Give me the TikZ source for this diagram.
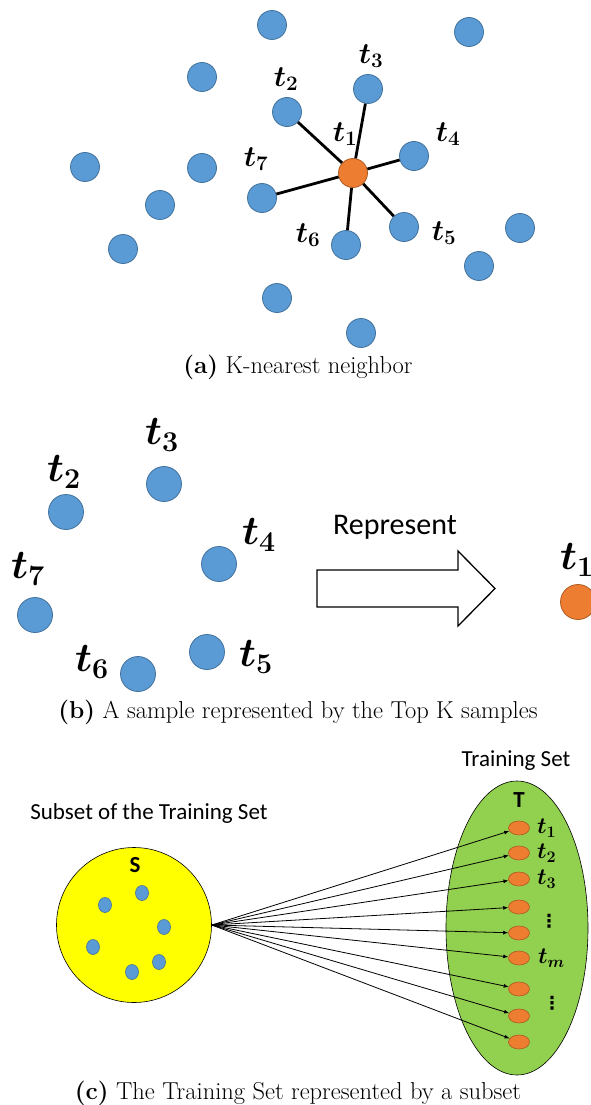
\RequirePackage{fix-cm}
\documentclass[tikz,border=0pt]{standalone}
\usepackage{fontspec}
\usepackage{tikz}
\usetikzlibrary{arrows.meta,positioning,shapes.geometric}
\newfontfamily\calibri{Carlito}
\newfontfamily\dejavu{DejaVu Sans}
\definecolor{DotBlue}{HTML}{5B9BD5}
\definecolor{DotEdge}{HTML}{41719C}
\definecolor{DotOrange}{HTML}{ED7D31}
\definecolor{OrangeEdge}{HTML}{AE5A21}
\definecolor{SetYellow}{HTML}{FFFF00}
\definecolor{SetGreen}{HTML}{92D050}

\begin{document}
\begin{tikzpicture}[x=1pt,y=-1pt,>=Latex]
    \tikzset{
      sample/.style={circle,draw=DotEdge,fill=DotBlue,line width=0.8pt,inner sep=0pt,minimum size=29pt},
      query/.style={sample,draw=OrangeEdge,fill=DotOrange},
      bigsample/.style={sample,minimum size=35pt},
      bigquery/.style={query,minimum size=35pt},
      spoke/.style={line width=2.8pt,black},
      tlabel/.style={inner sep=0pt,font=\boldmath\fontsize{29.5}{32}\selectfont},
      biglabel/.style={inner sep=0pt,font=\boldmath\fontsize{41}{44}\selectfont},
      smalllabel/.style={inner sep=0pt,font=\boldmath\fontsize{23}{25}\selectfont},
      caption/.style={inner sep=0pt,font=\fontsize{24.5}{28}\selectfont},
      sanslabel/.style={inner sep=0pt,font=\calibri\fontsize{23}{26}\selectfont},
      setname/.style={inner sep=0pt,font=\calibri\bfseries\fontsize{23}{26}\selectfont},
      subsetdot/.style={ellipse,draw=DotEdge,fill=DotBlue,line width=0.6pt,inner sep=0pt,
        minimum width=13pt,minimum height=15pt},
      member/.style={ellipse,draw=OrangeEdge,fill=DotOrange,line width=0.6pt,inner sep=0pt,
        minimum width=21pt,minimum height=14pt},
      fan/.style={->,line width=0.8pt,>={Latex[length=5pt,width=4pt]}}
    }
    \useasboundingbox (0,0) rectangle (590,1105);

    % (a) K-nearest neighbor
    \foreach \p in {(272,25),(469,32),(202,77),(85,167),(202,168),(160,205),
        (123,249),(520,228),(479,266),(277,298),(361,333)}
      \node[sample] at \p {};
    \node[query] (a1) at (353,173) {};
    \node[sample] (a2) at (287,112) {};
    \node[sample] (a3) at (368,89) {};
    \node[sample] (a4) at (414,156) {};
    \node[sample] (a5) at (404,227) {};
    \node[sample] (a6) at (346,245) {};
    \node[sample] (a7) at (262,198) {};
    \foreach \i in {2,...,7}
      \draw[spoke] (a1) -- (a\i);
    \node[tlabel] (la1) at (345,134) {$t_1$};
    \node[tlabel] (la2) at (286,79) {$t_2$};
    \node[tlabel] (la3) at (371,56) {$t_3$};
    \node[tlabel] (la4) at (448,134) {$t_4$};
    \node[tlabel] (la5) at (444,233) {$t_5$};
    \node[tlabel] (la6) at (308,235) {$t_6$};
    \node[tlabel] (la7) at (256,159) {$t_7$};
    \node[caption] (capa) at (298,367) {\textbf{(a)} K-nearest neighbor};

    % (b) top K samples
    \node[bigsample] (b2) at (66,512) {};
    \node[bigsample] (b3) at (164,484) {};
    \node[bigsample] (b4) at (219,564) {};
    \node[bigsample] (b5) at (207,652) {};
    \node[bigsample] (b6) at (138,674) {};
    \node[bigsample] (b7) at (35,615) {};
    \node[bigquery] (b1) at (578,602) {};
    \node[biglabel] (lb1) at (577,560) {$t_1$};
    \node[biglabel] (lb2) at (64,472) {$t_2$};
    \node[biglabel] (lb3) at (162,435) {$t_3$};
    \node[biglabel] (lb4) at (259,535) {$t_4$};
    \node[biglabel] (lb5) at (256,657) {$t_5$};
    \node[biglabel] (lb6) at (92,662) {$t_6$};
    \node[biglabel] (lb7) at (28,569) {$t_7$};
    \draw[line width=1.3pt] (317,570) -- (458,570) -- (458,551) -- (495,588.5)
      -- (458,626) -- (458,607) -- (317,607) -- cycle;
    \node[sanslabel,font=\calibri\fontsize{30}{32}\selectfont] (repr) at (395,527) {Represent};
    \node[caption] (capb) at (298,712) {\textbf{(b)} A sample represented by the Top K samples};

    % (c) training set and subset
    \node[sanslabel] (subname) at (149,813) {Subset of the Training Set};
    \node[sanslabel] (trainname) at (516,761) {Training Set};
    \node[circle,draw,line width=0.6pt,fill=SetYellow,minimum size=155pt] (subset) at (134,925) {};
    \node[ellipse,draw,line width=0.6pt,fill=SetGreen,minimum width=142pt,minimum height=294pt]
      (train) at (517,928) {};
    \node[setname] (sname) at (135,865) {S};
    \node[setname] (tname) at (519,800) {T};
    \node[subsetdot] (s1) at (105,905) {};
    \node[subsetdot] (s2) at (142,893) {};
    \node[subsetdot] (s3) at (164,927) {};
    \node[subsetdot] (s4) at (93,947) {};
    \node[subsetdot] (s5) at (159,962) {};
    \node[subsetdot] (s6) at (132,972) {};
    \foreach \i/\y in {1/828,2/853,3/879,4/907,5/933,6/958,7/989,8/1016,9/1042}
      \node[member] (o\i) at (519,\y) {};
    \foreach \i in {1,...,9}
      \draw[fan] (subset.east) -- (o\i);
    \node[smalllabel,right=7pt of o1] (lt1) {$t_1$};
    \node[smalllabel,right=7pt of o2] (lt2) {$t_2$};
    \node[smalllabel,right=7pt of o3] (lt3) {$t_3$};
    \node[smalllabel,right=8pt of o6] (ltm) {$t_m$};
    \node[inner sep=0pt,font=\dejavu\bfseries\fontsize{18}{20}\selectfont] (dots1) at (549,921) {⋮};
    \node[inner sep=0pt,font=\dejavu\bfseries\fontsize{18}{20}\selectfont] (dots2) at (552,1003) {⋮};
    \node[caption] (capc) at (298,1093) {\textbf{(c)} The Training Set represented by a subset};
  \end{tikzpicture}
\end{document}
